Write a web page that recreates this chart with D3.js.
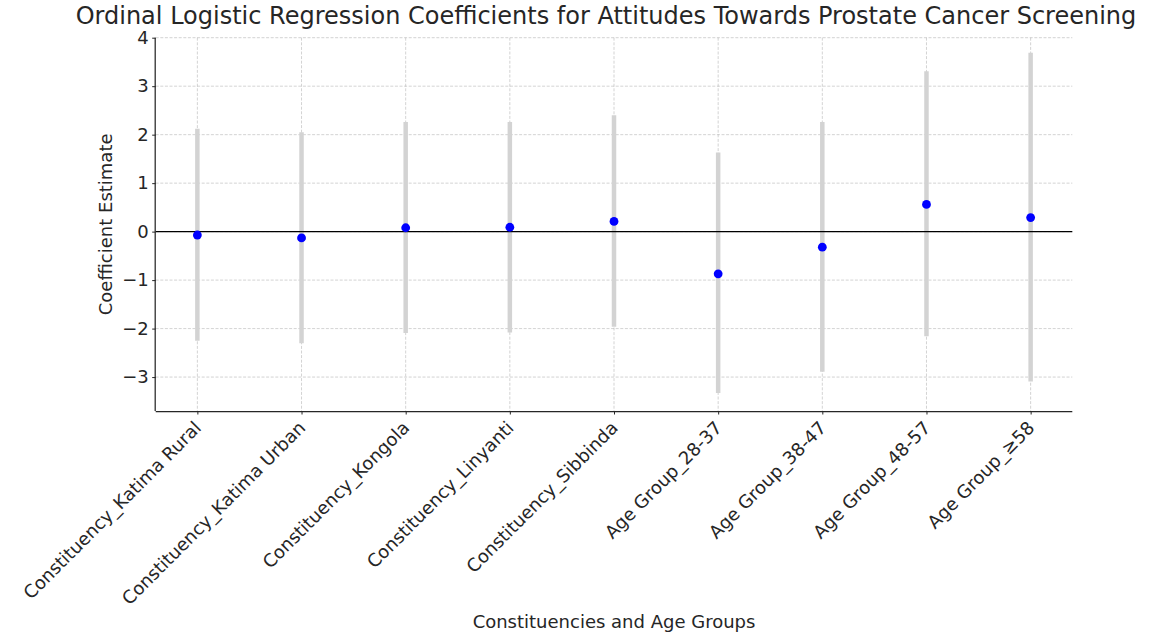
<!DOCTYPE html>
<html>
<head>
<meta charset="utf-8">
<script src="https://cdn.jsdelivr.net/npm/d3@7"></script>
<style>
  html, body { margin: 0; padding: 0; background: #fff; }
  svg { display: block; font-family: "DejaVu Sans", sans-serif; }
</style>
</head>
<body>
<svg id="chart" width="1167" height="638"></svg>
<script>
const categories = [
  "Constituency_Katima Rural",
  "Constituency_Katima Urban",
  "Constituency_Kongola",
  "Constituency_Linyanti",
  "Constituency_Sibbinda",
  "Age Group_28-37",
  "Age Group_38-47",
  "Age Group_48-57",
  "Age Group_\u226558"
];
const estimates = [-0.07, -0.13, 0.08, 0.09, 0.21, -0.87, -0.32, 0.56, 0.29];
const ciLower   = [-2.25, -2.30, -2.09, -2.08, -1.96, -3.33, -2.89, -2.16, -3.09];
const ciUpper   = [2.12, 2.05, 2.26, 2.26, 2.40, 1.63, 2.26, 3.31, 3.69];
const yTicks = [-3, -2, -1, 0, 1, 2, 3, 4];
const titleText = "Ordinal Logistic Regression Coefficients for Attitudes Towards Prostate Cancer Screening";
const xLabelText = "Constituencies and Age Groups";
const yLabelText = "Coefficient Estimate";

(function () {
const svg = d3.select("#chart");
const pLeft = 155.7, pRight = 1072.3, pTop = 37.7, pBottom = 411;

const x = d3.scaleLinear().domain([-0.4, categories.length - 1 + 0.4]).range([pLeft, pRight]);
const y = d3.scaleLinear().domain([-3.7, 4.0]).range([pBottom, pTop]);
const textColor = "#262626";
const fs = 18;

// grid
const grid = svg.append("g");
grid.selectAll("line.h").data(yTicks).join("line").attr("class", "h")
  .attr("x1", pLeft).attr("x2", pRight)
  .attr("y1", d => y(d)).attr("y2", d => y(d))
  .attr("stroke", "#b0b0b0").attr("stroke-opacity", 0.7)
  .attr("stroke-width", 0.8).attr("stroke-dasharray", "3,1.6");
grid.selectAll("line.v").data(categories).join("line").attr("class", "v")
  .attr("x1", (d, i) => x(i)).attr("x2", (d, i) => x(i))
  .attr("y1", pTop).attr("y2", pBottom)
  .attr("stroke", "#b0b0b0").attr("stroke-opacity", 0.7)
  .attr("stroke-width", 0.8).attr("stroke-dasharray", "3,1.6");

// error bars
svg.append("g").selectAll("line").data(categories).join("line")
  .attr("x1", (d, i) => x(i)).attr("x2", (d, i) => x(i))
  .attr("y1", (d, i) => y(ciLower[i])).attr("y2", (d, i) => y(ciUpper[i]))
  .attr("stroke", "#d3d3d3").attr("stroke-width", 4.5);

// zero line
svg.append("line")
  .attr("x1", pLeft).attr("x2", pRight)
  .attr("y1", y(0)).attr("y2", y(0))
  .attr("stroke", "#000").attr("stroke-width", 1.1);

// points
svg.append("g").selectAll("circle").data(categories).join("circle")
  .attr("cx", (d, i) => x(i)).attr("cy", (d, i) => y(estimates[i]))
  .attr("r", 4.4).attr("fill", "#0000ff");

// y axis
const yAxis = d3.axisLeft(y).tickValues(yTicks).tickSize(3.5).tickPadding(3.5)
  .tickFormat(d => d < 0 ? "\u2212" + Math.abs(d) : String(d));
const gy = svg.append("g").attr("transform", `translate(${pLeft},0)`).call(yAxis);
gy.select(".domain").attr("stroke", textColor).attr("stroke-width", 1.25)
  .attr("d", `M-0.5,${pTop}V${pBottom}`);
gy.selectAll(".tick line").attr("stroke", textColor).attr("stroke-width", 1);
gy.selectAll(".tick text").attr("fill", textColor).attr("font-size", fs)
  .attr("font-family", "DejaVu Sans");

// x axis
const xAxis = d3.axisBottom(x).tickValues(d3.range(categories.length)).tickSize(3.5)
  .tickFormat(() => "");
const gx = svg.append("g").attr("transform", `translate(0,${pBottom})`).call(xAxis);
gx.select(".domain").attr("stroke", textColor).attr("stroke-width", 1.25)
  .attr("d", `M${pLeft},0.5H${pRight}`);
gx.selectAll(".tick line").attr("stroke", textColor).attr("stroke-width", 1);

// rotated x labels
svg.append("g").selectAll("text").data(categories).join("text")
  .attr("transform", (d, i) => `translate(${x(i) + 5},${pBottom + 18}) rotate(-45)`)
  .attr("text-anchor", "end")
  .attr("font-size", fs).attr("fill", textColor)
  .text(d => d);

// title
svg.append("text")
  .attr("x", 606).attr("y", 24)
  .attr("text-anchor", "middle").attr("font-size", 24).attr("fill", textColor)
  .text(titleText);

// axis labels
svg.append("text")
  .attr("x", (pLeft + pRight) / 2).attr("y", 628)
  .attr("text-anchor", "middle").attr("font-size", fs).attr("fill", textColor)
  .text(xLabelText);
svg.append("text")
  .attr("transform", `translate(112,${(pTop + pBottom) / 2}) rotate(-90)`)
  .attr("text-anchor", "middle").attr("font-size", fs).attr("fill", textColor)
  .text(yLabelText);
})();
</script>
</body>
</html>
